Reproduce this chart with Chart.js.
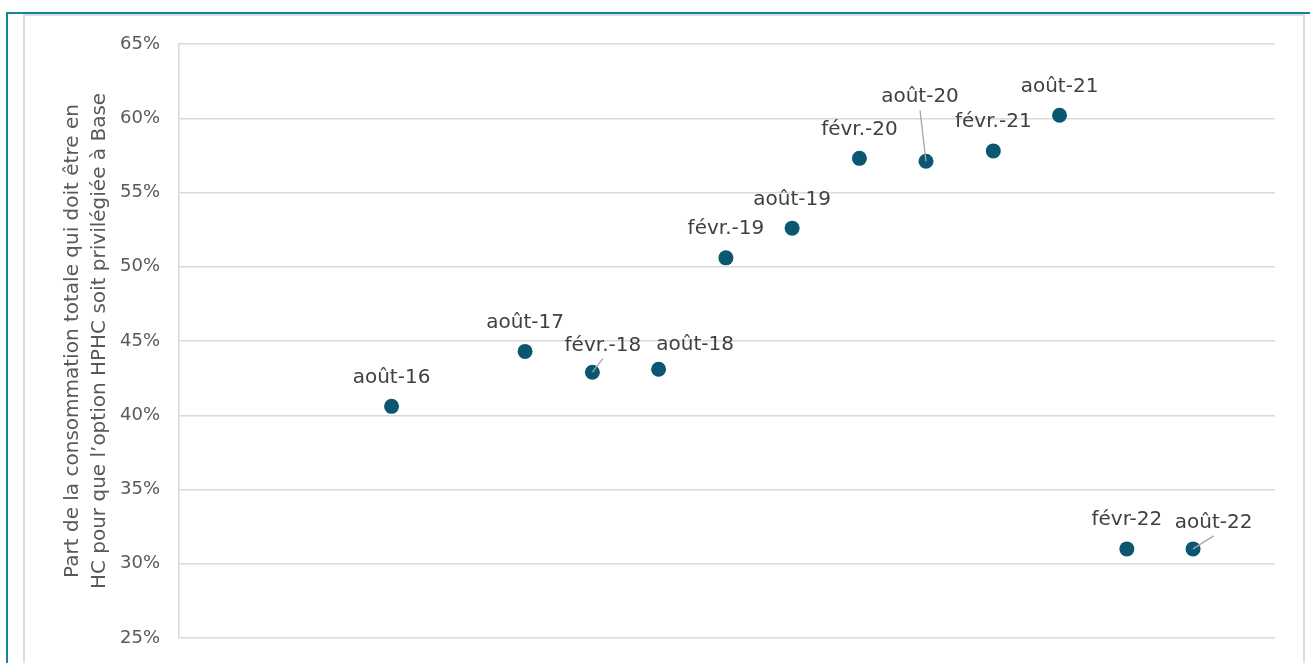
<!DOCTYPE html>
<html lang="fr">
<head>
<meta charset="utf-8">
<title>Part de la consommation en HC – seuil HPHC / Base</title>
<script src="https://cdn.jsdelivr.net/npm/chart.js@4.4.1/dist/chart.umd.min.js"></script>
<style>
  html, body { margin: 0; padding: 0; background: #fff; overflow: hidden; }
  #wrap { position: relative; width: 1310px; height: 663px; overflow: hidden; }
  .outer { position: absolute; left: 6px; top: 12px; width: 1400px; height: 800px;
           border-left: 2px solid #13879a; border-top: 2px solid #13879a; }
  .inner { position: absolute; left: 23px; top: 14px; width: 1278px; height: 800px;
           border: 2px solid #dcdcdc; }
  canvas { position: absolute; left: 0; top: 0; }
</style>
</head>
<body>
<div id="wrap">
  <div class="outer"></div>
  <div class="inner"></div>
  <canvas id="chart" width="1310" height="663"></canvas>
</div>
<script>
// Semi-annual observations (1st of the month)
const periods = ['août-16', 'août-17', 'févr.-18', 'août-18', 'févr.-19', 'août-19',
                 'févr.-20', 'août-20', 'févr.-21', 'août-21', 'févr-22', 'août-22'];
const years   = [2016, 2017, 2018, 2018, 2019, 2019, 2020, 2020, 2021, 2021, 2022, 2022];
const months  = [8, 8, 2, 8, 2, 8, 2, 8, 2, 8, 2, 8];

// Share of total consumption (%) that must fall in off-peak hours for HPHC to beat Base
const shareHC = [40.6, 44.3, 42.9, 43.1, 50.6, 52.6, 57.3, 57.1, 57.8, 60.2, 31.0, 31.0];

const axisTitle = ['Part de la consommation totale qui doit être en',
                   'HC pour que l’option HPHC soit privilégiée à Base'];

// Day number of a calendar date, used as the x value
const dayNum = (y, m, d = 1) => Date.UTC(y, m - 1, d) / 86400000;

// Label placement relative to the point (default: centred just above it)
const labelPlacement = {
  'févr.-18': { dx: 10.5, dy: -21.5, leader: true },
  'août-18':  { dx: 36.5, dy: -19.5 },
  'août-20':  { dx: -6,   dy: -59,   leader: true },
  'août-22':  { dx: 20.5, dy: -21,   leader: true }
};

const FONT = '"DejaVu Sans", "Liberation Sans", sans-serif';

const pointLabels = {
  id: 'pointLabels',
  afterDatasetsDraw(chart) {
    const ctx = chart.ctx;
    const meta = chart.getDatasetMeta(0);
    ctx.save();
    meta.data.forEach((pt, i) => {
      const name = periods[i];
      const p = Object.assign({ dx: 0, dy: -23.5, leader: false }, labelPlacement[name] || {});
      const lx = pt.x + p.dx;
      const ly = pt.y + p.dy;
      if (p.leader) {
        ctx.strokeStyle = '#a6a6a6';
        ctx.lineWidth = 1.3;
        ctx.beginPath();
        ctx.moveTo(pt.x, pt.y);
        ctx.lineTo(lx, ly + 8);
        ctx.stroke();
      }
      ctx.font = '20px ' + FONT;
      ctx.fillStyle = '#404040';
      ctx.textAlign = 'center';
      ctx.textBaseline = 'alphabetic';
      ctx.fillText(name, lx, ly);
    });
    ctx.restore();
  }
};

new Chart(document.getElementById('chart'), {
  type: 'scatter',
  data: {
    datasets: [{
      data: periods.map((_, i) => ({ x: dayNum(years[i], months[i]), y: shareHC[i] })),
      backgroundColor: '#0b5670',
      borderWidth: 0,
      pointRadius: 7.5,
      pointHoverRadius: 7.5
    }]
  },
  options: {
    responsive: false,
    animation: false,
    devicePixelRatio: 1,
    layout: { padding: { top: 44, bottom: 25, left: 0, right: 35 } },
    plugins: { legend: { display: false }, tooltip: { enabled: false } },
    scales: {
      x: {
        type: 'linear',
        display: false,
        min: dayNum(2014, 12, 29),
        max: dayNum(2023, 3, 13)
      },
      y: {
        min: 25,
        max: 65,
        afterFit(scale) { scale.width = 179; },
        ticks: {
          stepSize: 5,
          padding: 3,
          color: '#595959',
          font: { family: FONT, size: 18 },
          callback: v => v + '%'
        },
        grid: { color: '#d9d9d9', lineWidth: 1.5, drawTicks: true, tickLength: 16, tickColor: 'rgba(0,0,0,0)' },
        border: { display: true, color: '#d9d9d9', width: 1.5 },
        title: {
          display: true,
          text: axisTitle,
          color: '#595959',
          font: { family: FONT, size: 20, lineHeight: 1.32 },
          padding: { top: 60, bottom: 0 }
        }
      }
    }
  },
  plugins: [pointLabels]
});
</script>
</body>
</html>
